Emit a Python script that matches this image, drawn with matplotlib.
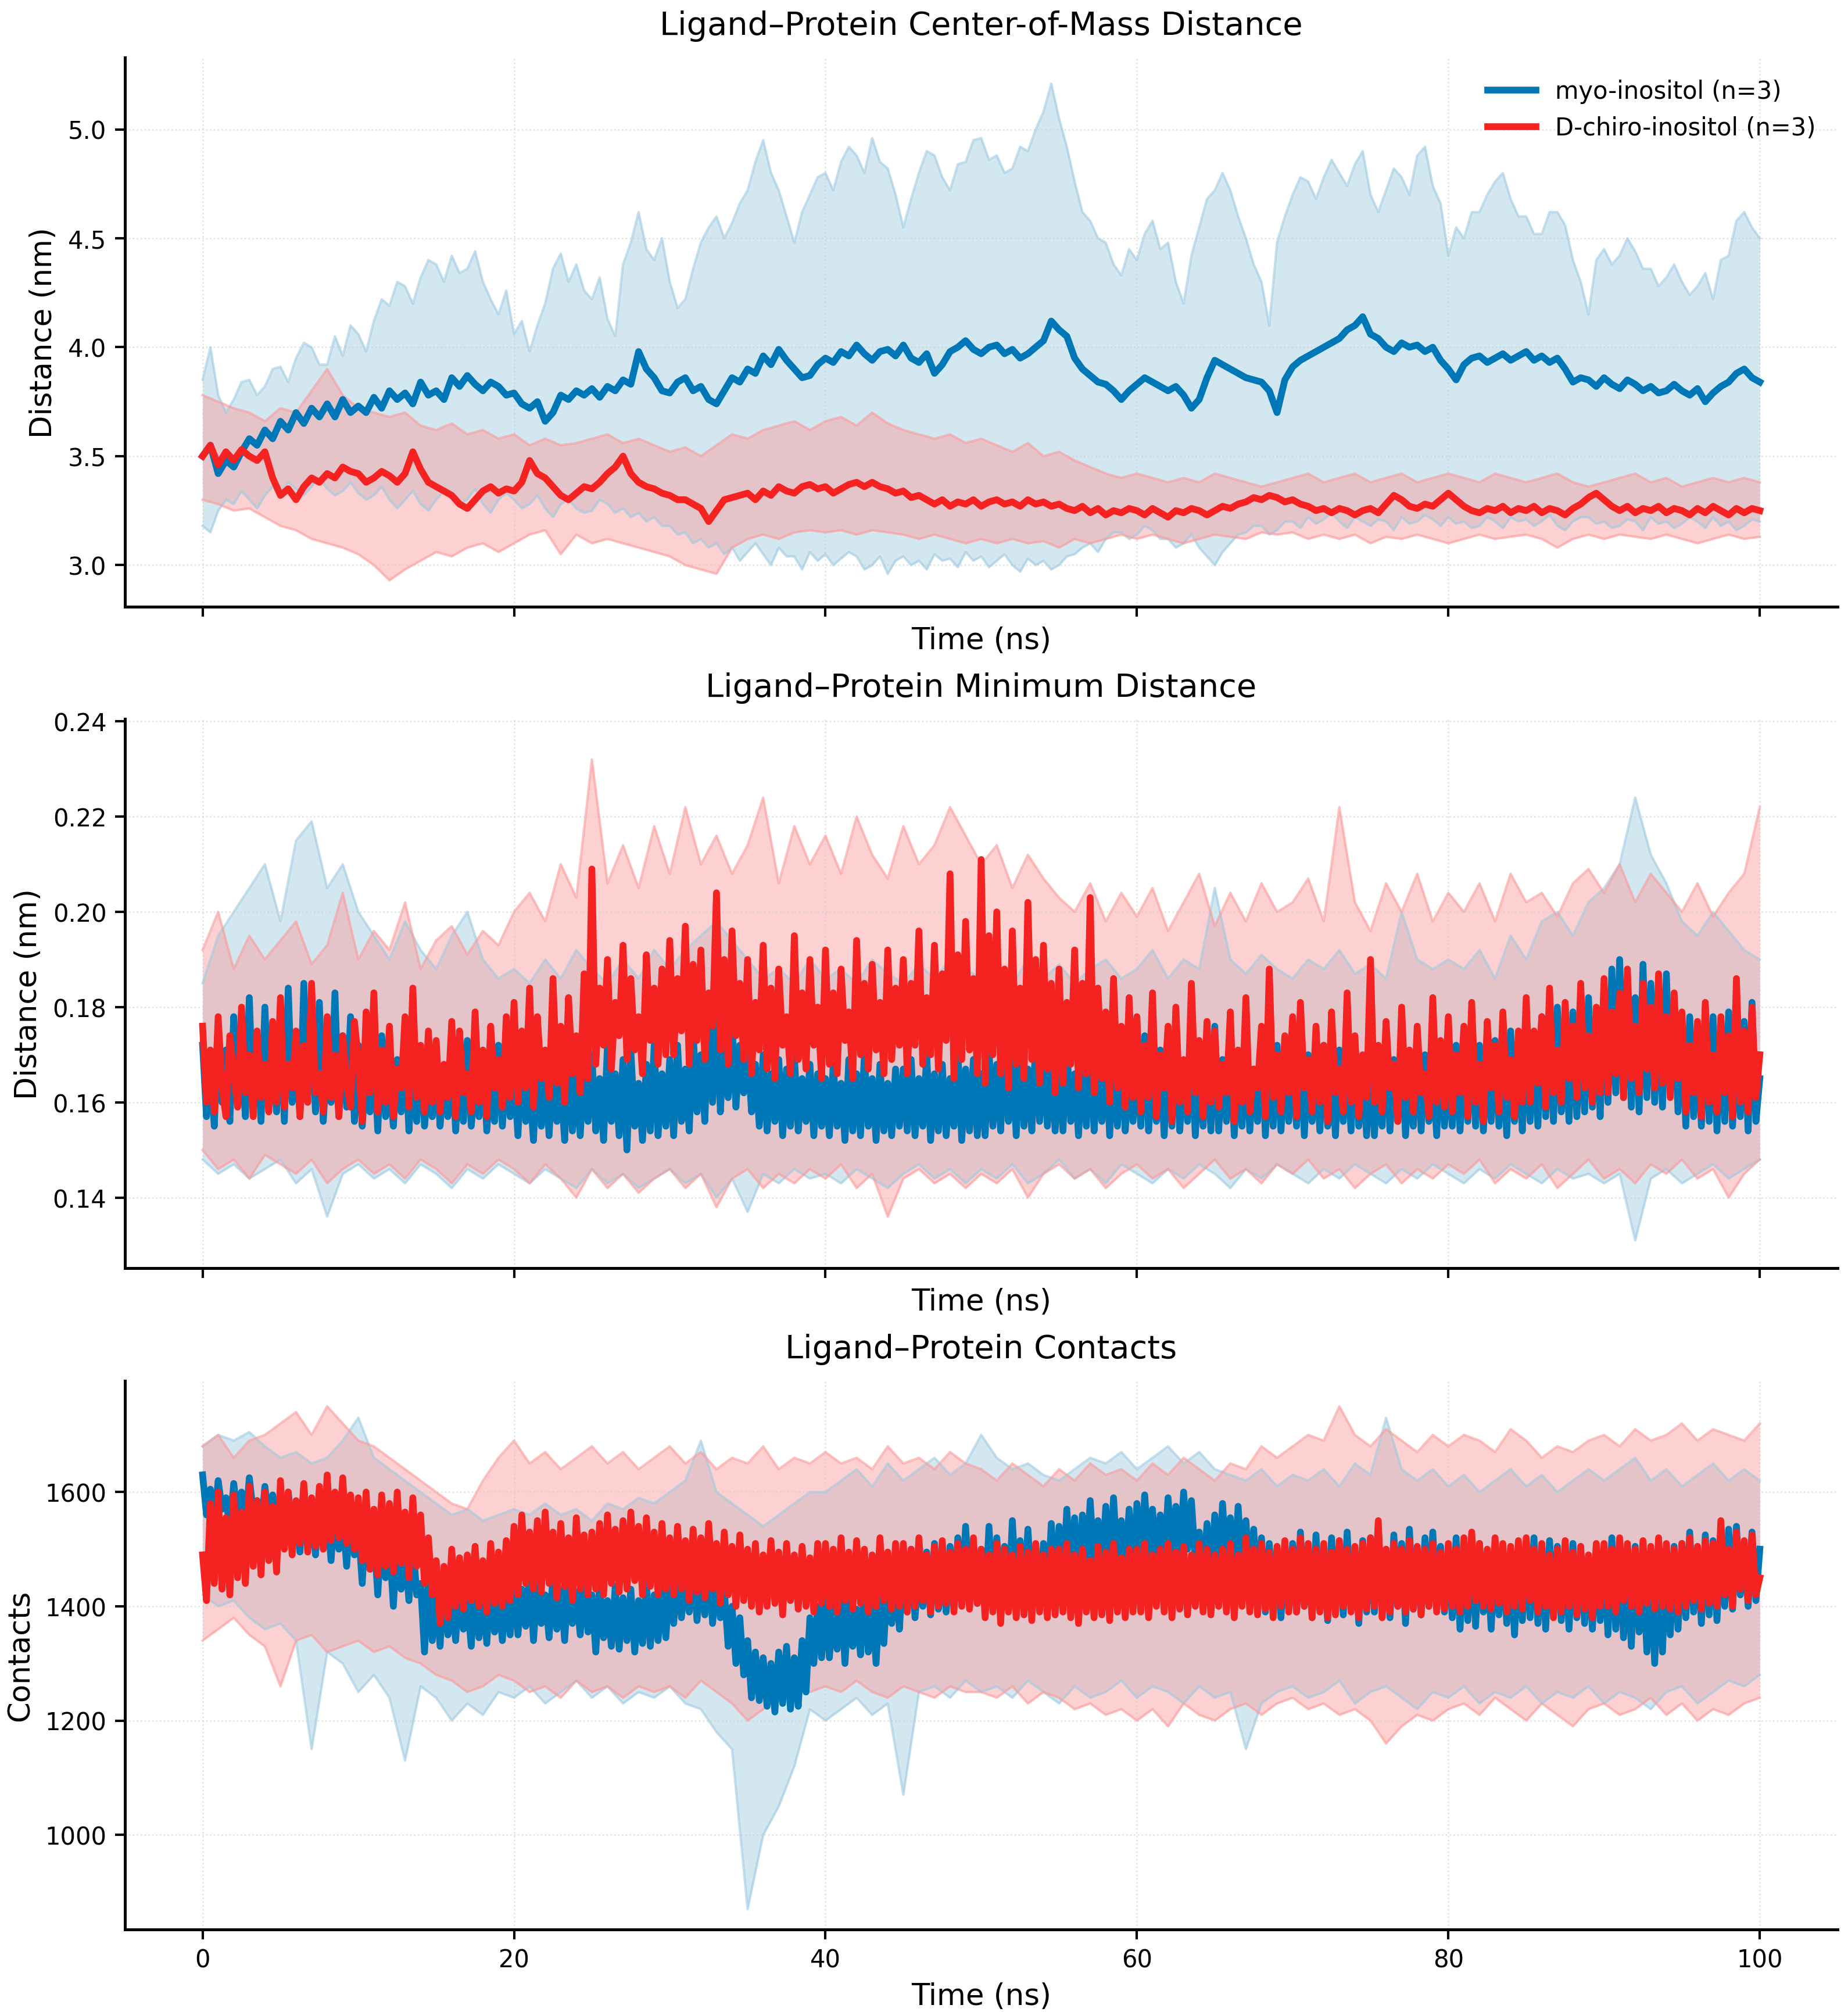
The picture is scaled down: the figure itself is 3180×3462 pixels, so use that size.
import matplotlib
matplotlib.use("Agg")
import matplotlib.pyplot as plt
import numpy as np

# sampling of the values
t_com = np.arange(201) * 0.5      # COM mean curves and myo envelope, every 0.5 ns
t_fast = np.arange(401) * 0.25    # min-distance / contacts mean curves, every 0.25 ns
t_band = np.arange(101) * 1.0     # other replicate envelopes, every 1 ns

labels = ["myo-inositol (n=3)", "D-chiro-inositol (n=3)"]
titles = ["Ligand\u2013Protein Center-of-Mass Distance",
          "Ligand\u2013Protein Minimum Distance",
          "Ligand\u2013Protein Contacts"]
ylabels = ["Distance (nm)", "Distance (nm)", "Contacts"]

# ---------------- COM distance ----------------
com_myo_mean = [
    3.50, 3.55, 3.42, 3.48, 3.45, 3.52, 3.58, 3.55, 3.62, 3.58,
    3.66, 3.62, 3.70, 3.65, 3.72, 3.68, 3.74, 3.68, 3.76, 3.70,
    3.73, 3.70, 3.77, 3.72, 3.80, 3.76, 3.79, 3.74, 3.84, 3.78,
    3.80, 3.76, 3.86, 3.82, 3.87, 3.83, 3.80, 3.84, 3.82, 3.78,
    3.79, 3.74, 3.72, 3.75, 3.66, 3.70, 3.78, 3.76, 3.80, 3.78,
    3.81, 3.77, 3.82, 3.80, 3.85, 3.83, 3.98, 3.90, 3.86, 3.80,
    3.79, 3.84, 3.86, 3.80, 3.82, 3.76, 3.74, 3.80, 3.86, 3.84,
    3.90, 3.88, 3.96, 3.92, 3.99, 3.94, 3.90, 3.86, 3.87, 3.92,
    3.95, 3.93, 3.98, 3.96, 4.01, 3.97, 3.94, 3.98, 3.99, 3.96,
    4.01, 3.95, 3.93, 3.97, 3.88, 3.92, 3.98, 4.00, 4.03, 3.99,
    3.97, 4.00, 4.01, 3.97, 3.99, 3.95, 3.97, 4.00, 4.03, 4.12,
    4.08, 4.05, 3.95, 3.90, 3.87, 3.84, 3.83, 3.80, 3.76, 3.80,
    3.83, 3.86, 3.84, 3.82, 3.80, 3.82, 3.78, 3.72, 3.76, 3.86,
    3.94, 3.92, 3.90, 3.88, 3.86, 3.85, 3.84, 3.80, 3.70, 3.85,
    3.91, 3.94, 3.96, 3.98, 4.00, 4.02, 4.04, 4.08, 4.10, 4.14,
    4.06, 4.04, 4.00, 3.98, 4.02, 4.00, 4.01, 3.98, 4.00, 3.94,
    3.90, 3.85, 3.92, 3.95, 3.96, 3.93, 3.95, 3.97, 3.94, 3.96,
    3.98, 3.94, 3.96, 3.93, 3.95, 3.90, 3.84, 3.86, 3.85, 3.82,
    3.86, 3.83, 3.81, 3.85, 3.83, 3.80, 3.82, 3.79, 3.80, 3.83,
    3.80, 3.78, 3.81, 3.75, 3.79, 3.82, 3.84, 3.88, 3.90, 3.86,
    3.84]
com_chiro_mean = [
    3.50, 3.55, 3.46, 3.52, 3.48, 3.53, 3.50, 3.48, 3.52, 3.40,
    3.32, 3.35, 3.30, 3.36, 3.40, 3.38, 3.42, 3.40, 3.45, 3.43,
    3.42, 3.38, 3.40, 3.43, 3.41, 3.38, 3.42, 3.52, 3.44, 3.38,
    3.36, 3.34, 3.32, 3.28, 3.26, 3.30, 3.34, 3.36, 3.33, 3.35,
    3.34, 3.38, 3.48, 3.42, 3.40, 3.36, 3.32, 3.30, 3.33, 3.36,
    3.35, 3.38, 3.42, 3.45, 3.50, 3.42, 3.38, 3.36, 3.35, 3.33,
    3.32, 3.30, 3.30, 3.28, 3.26, 3.20, 3.25, 3.30, 3.31, 3.32,
    3.33, 3.30, 3.34, 3.32, 3.36, 3.34, 3.33, 3.36, 3.37, 3.35,
    3.36, 3.33, 3.35, 3.37, 3.38, 3.36, 3.38, 3.36, 3.35, 3.33,
    3.34, 3.31, 3.32, 3.30, 3.28, 3.30, 3.27, 3.29, 3.28, 3.30,
    3.27, 3.29, 3.30, 3.28, 3.29, 3.27, 3.30, 3.28, 3.29, 3.27,
    3.28, 3.26, 3.25, 3.27, 3.24, 3.26, 3.23, 3.25, 3.24, 3.26,
    3.25, 3.23, 3.26, 3.24, 3.22, 3.25, 3.24, 3.26, 3.25, 3.23,
    3.25, 3.27, 3.26, 3.28, 3.29, 3.31, 3.30, 3.32, 3.31, 3.29,
    3.30, 3.28, 3.27, 3.25, 3.26, 3.24, 3.26, 3.25, 3.23, 3.25,
    3.26, 3.24, 3.28, 3.32, 3.30, 3.27, 3.26, 3.28, 3.27, 3.30,
    3.33, 3.30, 3.27, 3.25, 3.24, 3.26, 3.25, 3.27, 3.24, 3.26,
    3.25, 3.27, 3.24, 3.26, 3.25, 3.23, 3.26, 3.28, 3.31, 3.33,
    3.30, 3.27, 3.25, 3.27, 3.24, 3.26, 3.25, 3.27, 3.24, 3.26,
    3.25, 3.23, 3.26, 3.24, 3.27, 3.25, 3.23, 3.26, 3.24, 3.26,
    3.25]
com_myo_hi = [
    3.85, 4.00, 3.78, 3.70, 3.76, 3.84, 3.85, 3.78, 3.82, 3.90,
    3.91, 3.84, 3.95, 4.02, 4.00, 3.92, 3.92, 4.05, 3.96, 4.10,
    4.06, 3.98, 4.12, 4.22, 4.19, 4.30, 4.28, 4.20, 4.32, 4.40,
    4.38, 4.30, 4.42, 4.34, 4.36, 4.44, 4.30, 4.22, 4.15, 4.26,
    4.06, 4.12, 3.98, 4.10, 4.20, 4.36, 4.43, 4.30, 4.38, 4.26,
    4.22, 4.32, 4.13, 4.05, 4.38, 4.48, 4.62, 4.45, 4.40, 4.50,
    4.30, 4.18, 4.22, 4.36, 4.48, 4.55, 4.60, 4.50, 4.57, 4.66,
    4.72, 4.85, 4.95, 4.80, 4.72, 4.60, 4.48, 4.62, 4.70, 4.78,
    4.80, 4.72, 4.85, 4.92, 4.88, 4.80, 4.96, 4.85, 4.82, 4.70,
    4.55, 4.68, 4.80, 4.90, 4.88, 4.78, 4.72, 4.84, 4.85, 4.95,
    4.96, 4.86, 4.88, 4.80, 4.82, 4.92, 4.90, 5.00, 5.08, 5.21,
    5.05, 4.92, 4.76, 4.62, 4.58, 4.50, 4.48, 4.38, 4.33, 4.45,
    4.40, 4.52, 4.58, 4.45, 4.48, 4.30, 4.20, 4.42, 4.55, 4.68,
    4.72, 4.80, 4.72, 4.60, 4.50, 4.38, 4.30, 4.10, 4.48, 4.60,
    4.70, 4.78, 4.76, 4.68, 4.78, 4.86, 4.80, 4.74, 4.84, 4.90,
    4.70, 4.62, 4.72, 4.82, 4.78, 4.70, 4.88, 4.92, 4.74, 4.66,
    4.42, 4.55, 4.50, 4.62, 4.62, 4.70, 4.76, 4.80, 4.68, 4.60,
    4.60, 4.52, 4.52, 4.62, 4.62, 4.56, 4.40, 4.30, 4.15, 4.40,
    4.45, 4.38, 4.42, 4.50, 4.44, 4.36, 4.36, 4.28, 4.32, 4.38,
    4.30, 4.24, 4.28, 4.34, 4.22, 4.40, 4.42, 4.58, 4.62, 4.55,
    4.50]
com_myo_lo = [
    3.18, 3.15, 3.25, 3.30, 3.28, 3.34, 3.30, 3.26, 3.32, 3.36,
    3.33, 3.38, 3.35, 3.32, 3.36, 3.40, 3.35, 3.32, 3.34, 3.38,
    3.33, 3.30, 3.32, 3.36, 3.30, 3.26, 3.30, 3.34, 3.28, 3.25,
    3.30, 3.34, 3.32, 3.28, 3.30, 3.35, 3.28, 3.24, 3.30, 3.33,
    3.30, 3.26, 3.28, 3.32, 3.26, 3.22, 3.28, 3.30, 3.26, 3.24,
    3.25, 3.30, 3.28, 3.24, 3.26, 3.22, 3.24, 3.20, 3.22, 3.18,
    3.18, 3.14, 3.15, 3.10, 3.12, 3.08, 3.10, 3.05, 3.08, 3.02,
    3.06, 3.10, 3.05, 3.00, 3.08, 3.04, 3.04, 2.98, 3.06, 3.02,
    3.05, 3.00, 3.03, 3.06, 3.04, 2.98, 3.00, 3.04, 2.96, 3.02,
    3.04, 3.00, 3.02, 2.98, 3.05, 3.02, 3.03, 2.99, 3.06, 3.02,
    3.04, 2.99, 3.02, 3.05, 3.00, 2.97, 3.03, 3.00, 3.02, 2.98,
    3.00, 3.04, 3.05, 3.08, 3.10, 3.06, 3.12, 3.15, 3.15, 3.12,
    3.14, 3.18, 3.16, 3.12, 3.12, 3.08, 3.10, 3.14, 3.08, 3.04,
    3.00, 3.06, 3.10, 3.14, 3.15, 3.18, 3.18, 3.14, 3.16, 3.20,
    3.20, 3.17, 3.22, 3.19, 3.21, 3.24, 3.20, 3.17, 3.22, 3.20,
    3.18, 3.21, 3.20, 3.16, 3.22, 3.19, 3.20, 3.23, 3.21, 3.18,
    3.22, 3.19, 3.20, 3.17, 3.18, 3.22, 3.20, 3.17, 3.22, 3.20,
    3.21, 3.18, 3.20, 3.23, 3.18, 3.16, 3.20, 3.22, 3.22, 3.19,
    3.20, 3.17, 3.18, 3.21, 3.20, 3.16, 3.22, 3.19, 3.20, 3.17,
    3.19, 3.22, 3.20, 3.17, 3.22, 3.18, 3.20, 3.16, 3.18, 3.21,
    3.20]
com_chiro_hi = [
    3.78, 3.75, 3.72, 3.70, 3.66, 3.72, 3.70, 3.80, 3.90, 3.78,
    3.72, 3.70, 3.68, 3.70, 3.64, 3.62, 3.65, 3.60, 3.62, 3.58,
    3.60, 3.55, 3.58, 3.55, 3.56, 3.58, 3.60, 3.56, 3.58, 3.55,
    3.52, 3.54, 3.50, 3.55, 3.60, 3.58, 3.62, 3.64, 3.66, 3.62,
    3.66, 3.68, 3.64, 3.70, 3.65, 3.62, 3.60, 3.58, 3.60, 3.56,
    3.58, 3.55, 3.52, 3.56, 3.50, 3.52, 3.48, 3.45, 3.42, 3.40,
    3.42, 3.40, 3.38, 3.40, 3.38, 3.42, 3.40, 3.38, 3.36, 3.38,
    3.40, 3.42, 3.38, 3.40, 3.42, 3.38, 3.40, 3.42, 3.38, 3.40,
    3.42, 3.40, 3.38, 3.42, 3.40, 3.38, 3.40, 3.42, 3.38, 3.36,
    3.38, 3.40, 3.42, 3.38, 3.40, 3.36, 3.38, 3.40, 3.38, 3.40,
    3.38]
com_chiro_lo = [
    3.30, 3.28, 3.25, 3.26, 3.22, 3.18, 3.16, 3.12, 3.10, 3.08,
    3.05, 3.00, 2.93, 2.98, 3.02, 3.06, 3.04, 3.08, 3.10, 3.06,
    3.10, 3.14, 3.16, 3.05, 3.14, 3.10, 3.12, 3.10, 3.08, 3.06,
    3.04, 3.00, 2.98, 2.96, 3.08, 3.12, 3.14, 3.12, 3.15, 3.16,
    3.15, 3.16, 3.14, 3.16, 3.15, 3.14, 3.12, 3.14, 3.12, 3.10,
    3.12, 3.10, 3.12, 3.10, 3.11, 3.08, 3.12, 3.10, 3.12, 3.14,
    3.12, 3.14, 3.12, 3.10, 3.12, 3.14, 3.13, 3.12, 3.15, 3.14,
    3.15, 3.12, 3.14, 3.12, 3.14, 3.10, 3.13, 3.12, 3.14, 3.12,
    3.10, 3.12, 3.14, 3.12, 3.13, 3.14, 3.12, 3.08, 3.12, 3.14,
    3.12, 3.14, 3.13, 3.12, 3.14, 3.12, 3.10, 3.12, 3.14, 3.12,
    3.13]

# ---------------- minimum distance ----------------
mind_myo_mean = [
    0.172, 0.157, 0.168, 0.155, 0.176, 0.160, 0.171, 0.156, 0.178, 0.162, 0.169, 0.157, 0.182, 0.159, 0.174, 0.156, 0.180, 0.161, 0.170, 0.158,
    0.179, 0.156, 0.184, 0.160, 0.172, 0.157, 0.185, 0.162, 0.175, 0.158, 0.181, 0.156, 0.170, 0.160, 0.183, 0.157, 0.174, 0.159, 0.178, 0.156,
    0.172, 0.155, 0.166, 0.158, 0.170, 0.154, 0.174, 0.157, 0.165, 0.155, 0.169, 0.158, 0.172, 0.154, 0.167, 0.156, 0.171, 0.155, 0.164, 0.157,
    0.169, 0.155, 0.165, 0.157, 0.171, 0.154, 0.167, 0.156, 0.173, 0.155, 0.164, 0.157, 0.170, 0.154, 0.166, 0.156, 0.172, 0.155, 0.168, 0.157,
    0.166, 0.153, 0.170, 0.156, 0.163, 0.152, 0.172, 0.155, 0.167, 0.153, 0.169, 0.156, 0.164, 0.152, 0.171, 0.154, 0.166, 0.153, 0.168, 0.156,
    0.170, 0.154, 0.165, 0.152, 0.172, 0.156, 0.166, 0.153, 0.169, 0.150, 0.171, 0.155, 0.164, 0.152, 0.168, 0.154, 0.172, 0.153, 0.166, 0.155,
    0.169, 0.153, 0.172, 0.156, 0.167, 0.154, 0.175, 0.158, 0.170, 0.156, 0.178, 0.160, 0.180, 0.158, 0.174, 0.161, 0.177, 0.159, 0.172, 0.162,
    0.172, 0.158, 0.168, 0.155, 0.170, 0.154, 0.166, 0.156, 0.169, 0.153, 0.167, 0.155, 0.170, 0.154, 0.165, 0.156, 0.168, 0.153, 0.166, 0.155,
    0.165, 0.153, 0.168, 0.155, 0.164, 0.152, 0.169, 0.154, 0.166, 0.153, 0.170, 0.155, 0.165, 0.152, 0.168, 0.154, 0.164, 0.153, 0.167, 0.155,
    0.167, 0.154, 0.169, 0.153, 0.165, 0.155, 0.170, 0.152, 0.166, 0.154, 0.168, 0.153, 0.165, 0.155, 0.171, 0.152, 0.167, 0.154, 0.169, 0.153,
    0.166, 0.153, 0.171, 0.155, 0.168, 0.154, 0.174, 0.156, 0.169, 0.153, 0.172, 0.155, 0.167, 0.154, 0.173, 0.156, 0.170, 0.155, 0.168, 0.154,
    0.168, 0.154, 0.172, 0.156, 0.166, 0.153, 0.170, 0.155, 0.173, 0.154, 0.167, 0.156, 0.171, 0.153, 0.169, 0.155, 0.172, 0.154, 0.166, 0.156,
    0.169, 0.155, 0.174, 0.154, 0.167, 0.156, 0.171, 0.153, 0.170, 0.155, 0.175, 0.154, 0.168, 0.156, 0.172, 0.153, 0.169, 0.155, 0.171, 0.154,
    0.176, 0.154, 0.169, 0.156, 0.172, 0.153, 0.168, 0.155, 0.171, 0.154, 0.167, 0.156, 0.173, 0.153, 0.169, 0.155, 0.172, 0.154, 0.168, 0.156,
    0.169, 0.155, 0.173, 0.153, 0.170, 0.156, 0.168, 0.154, 0.172, 0.155, 0.167, 0.153, 0.171, 0.156, 0.169, 0.154, 0.173, 0.155, 0.168, 0.153,
    0.170, 0.153, 0.168, 0.155, 0.174, 0.154, 0.169, 0.156, 0.171, 0.153, 0.167, 0.155, 0.173, 0.154, 0.170, 0.156, 0.168, 0.153, 0.172, 0.155,
    0.168, 0.155, 0.172, 0.154, 0.170, 0.156, 0.174, 0.155, 0.172, 0.154, 0.169, 0.156, 0.173, 0.155, 0.171, 0.153, 0.175, 0.156, 0.170, 0.154,
    0.176, 0.156, 0.173, 0.155, 0.178, 0.157, 0.175, 0.156, 0.180, 0.158, 0.174, 0.156, 0.179, 0.157, 0.176, 0.158, 0.182, 0.159, 0.177, 0.157,
    0.184, 0.160, 0.188, 0.162, 0.190, 0.161, 0.186, 0.159, 0.182, 0.158, 0.189, 0.161, 0.185, 0.160, 0.183, 0.159, 0.187, 0.162, 0.180, 0.158,
    0.176, 0.155, 0.178, 0.157, 0.174, 0.155, 0.180, 0.156, 0.178, 0.154, 0.175, 0.156, 0.179, 0.155, 0.173, 0.157, 0.177, 0.154, 0.181, 0.156,
    0.165]
mind_chiro_mean = [
    0.176, 0.160, 0.171, 0.158, 0.178, 0.163, 0.157, 0.174, 0.166, 0.159, 0.180, 0.162, 0.170, 0.157, 0.175, 0.161, 0.168, 0.158, 0.177, 0.160,
    0.182, 0.159, 0.168, 0.163, 0.175, 0.157, 0.172, 0.160, 0.185, 0.162, 0.166, 0.158, 0.178, 0.161, 0.170, 0.157, 0.174, 0.164, 0.159, 0.177,
    0.169, 0.156, 0.179, 0.162, 0.183, 0.158, 0.171, 0.160, 0.176, 0.157, 0.167, 0.163, 0.178, 0.159, 0.184, 0.161, 0.172, 0.158, 0.175, 0.160,
    0.173, 0.158, 0.168, 0.161, 0.177, 0.157, 0.175, 0.162, 0.166, 0.158, 0.179, 0.160, 0.171, 0.157, 0.176, 0.163, 0.169, 0.159, 0.178, 0.161,
    0.181, 0.160, 0.175, 0.163, 0.184, 0.159, 0.178, 0.165, 0.171, 0.161, 0.186, 0.164, 0.176, 0.160, 0.182, 0.166, 0.174, 0.162, 0.187, 0.165,
    0.209, 0.168, 0.184, 0.172, 0.190, 0.167, 0.181, 0.174, 0.193, 0.169, 0.186, 0.171, 0.178, 0.166, 0.191, 0.173, 0.184, 0.168, 0.188, 0.170,
    0.194, 0.170, 0.186, 0.175, 0.197, 0.168, 0.189, 0.173, 0.192, 0.169, 0.183, 0.176, 0.204, 0.171, 0.190, 0.168, 0.196, 0.174, 0.185, 0.169,
    0.190, 0.166, 0.181, 0.171, 0.193, 0.167, 0.184, 0.165, 0.188, 0.172, 0.178, 0.166, 0.195, 0.169, 0.183, 0.167, 0.190, 0.172, 0.180, 0.165,
    0.192, 0.168, 0.183, 0.166, 0.188, 0.173, 0.179, 0.165, 0.194, 0.170, 0.185, 0.167, 0.189, 0.171, 0.181, 0.166, 0.192, 0.169, 0.184, 0.172,
    0.190, 0.166, 0.185, 0.172, 0.196, 0.168, 0.182, 0.170, 0.193, 0.167, 0.187, 0.173, 0.208, 0.165, 0.191, 0.169, 0.198, 0.171, 0.186, 0.166,
    0.211, 0.164, 0.195, 0.170, 0.200, 0.166, 0.188, 0.163, 0.196, 0.168, 0.184, 0.165, 0.202, 0.169, 0.190, 0.164, 0.193, 0.167, 0.185, 0.162,
    0.188, 0.164, 0.181, 0.168, 0.192, 0.163, 0.185, 0.166, 0.203, 0.162, 0.184, 0.165, 0.179, 0.160, 0.186, 0.163, 0.176, 0.159, 0.182, 0.161,
    0.178, 0.158, 0.172, 0.161, 0.183, 0.157, 0.170, 0.163, 0.176, 0.156, 0.180, 0.160, 0.169, 0.158, 0.185, 0.162, 0.173, 0.157, 0.177, 0.160,
    0.175, 0.159, 0.168, 0.162, 0.179, 0.156, 0.171, 0.160, 0.182, 0.158, 0.167, 0.163, 0.176, 0.157, 0.188, 0.161, 0.170, 0.158, 0.174, 0.162,
    0.178, 0.157, 0.181, 0.163, 0.169, 0.158, 0.176, 0.160, 0.172, 0.156, 0.179, 0.162, 0.167, 0.158, 0.183, 0.160, 0.174, 0.157, 0.170, 0.161,
    0.190, 0.160, 0.172, 0.158, 0.177, 0.163, 0.168, 0.156, 0.180, 0.161, 0.171, 0.158, 0.176, 0.162, 0.166, 0.157, 0.182, 0.160, 0.173, 0.159,
    0.178, 0.158, 0.170, 0.162, 0.176, 0.157, 0.181, 0.160, 0.168, 0.156, 0.177, 0.163, 0.172, 0.158, 0.179, 0.161, 0.169, 0.157, 0.175, 0.160,
    0.182, 0.160, 0.175, 0.164, 0.178, 0.159, 0.184, 0.162, 0.171, 0.160, 0.181, 0.165, 0.176, 0.161, 0.185, 0.163, 0.174, 0.160, 0.180, 0.162,
    0.186, 0.162, 0.179, 0.166, 0.183, 0.161, 0.188, 0.165, 0.176, 0.162, 0.185, 0.167, 0.180, 0.163, 0.187, 0.164, 0.178, 0.161, 0.183, 0.165,
    0.179, 0.158, 0.172, 0.162, 0.177, 0.157, 0.181, 0.160, 0.170, 0.158, 0.178, 0.162, 0.174, 0.157, 0.186, 0.160, 0.175, 0.158, 0.180, 0.161,
    0.170]
mind_myo_hi = [
    0.185, 0.195, 0.200, 0.205, 0.210, 0.198, 0.215, 0.219, 0.205, 0.210,
    0.200, 0.195, 0.190, 0.198, 0.192, 0.188, 0.195, 0.200, 0.190, 0.186,
    0.188, 0.185, 0.190, 0.186, 0.192, 0.188, 0.185, 0.190, 0.186, 0.192,
    0.188, 0.192, 0.195, 0.198, 0.194, 0.190, 0.186, 0.188, 0.185, 0.190,
    0.186, 0.188, 0.185, 0.190, 0.187, 0.185, 0.189, 0.186, 0.190, 0.188,
    0.186, 0.188, 0.185, 0.190, 0.186, 0.189, 0.185, 0.188, 0.190, 0.186,
    0.188, 0.192, 0.186, 0.190, 0.188, 0.205, 0.190, 0.187, 0.191, 0.188,
    0.186, 0.190, 0.188, 0.192, 0.187, 0.189, 0.186, 0.200, 0.190, 0.188,
    0.190, 0.188, 0.192, 0.186, 0.195, 0.190, 0.198, 0.200, 0.195, 0.202,
    0.205, 0.210, 0.224, 0.212, 0.206, 0.198, 0.195, 0.200, 0.196, 0.192,
    0.190]
mind_myo_lo = [
    0.148, 0.145, 0.147, 0.144, 0.146, 0.148, 0.143, 0.146, 0.136, 0.145,
    0.147, 0.144, 0.146, 0.143, 0.147, 0.145, 0.142, 0.146, 0.144, 0.147,
    0.145, 0.143, 0.146, 0.144, 0.142, 0.146, 0.143, 0.145, 0.142, 0.144,
    0.146, 0.143, 0.145, 0.140, 0.144, 0.137, 0.145, 0.143, 0.146, 0.144,
    0.145, 0.143, 0.146, 0.144, 0.142, 0.145, 0.147, 0.144, 0.146, 0.143,
    0.146, 0.144, 0.147, 0.143, 0.145, 0.148, 0.144, 0.146, 0.143, 0.147,
    0.145, 0.143, 0.146, 0.144, 0.147, 0.145, 0.142, 0.146, 0.144, 0.147,
    0.145, 0.143, 0.146, 0.144, 0.147, 0.145, 0.143, 0.146, 0.144, 0.147,
    0.145, 0.143, 0.146, 0.144, 0.147, 0.145, 0.143, 0.146, 0.144, 0.145,
    0.143, 0.145, 0.131, 0.144, 0.146, 0.143, 0.145, 0.147, 0.144, 0.146,
    0.148]
mind_chiro_hi = [
    0.192, 0.200, 0.188, 0.195, 0.190, 0.194, 0.198, 0.189, 0.193, 0.204,
    0.190, 0.196, 0.192, 0.202, 0.188, 0.194, 0.197, 0.191, 0.196, 0.193,
    0.200, 0.204, 0.198, 0.210, 0.203, 0.232, 0.206, 0.214, 0.205, 0.218,
    0.208, 0.222, 0.210, 0.216, 0.208, 0.214, 0.224, 0.206, 0.218, 0.210,
    0.216, 0.208, 0.220, 0.212, 0.207, 0.218, 0.210, 0.214, 0.222, 0.216,
    0.210, 0.214, 0.205, 0.212, 0.207, 0.203, 0.200, 0.206, 0.198, 0.204,
    0.199, 0.205, 0.196, 0.202, 0.208, 0.197, 0.204, 0.198, 0.206, 0.200,
    0.202, 0.207, 0.198, 0.222, 0.202, 0.196, 0.206, 0.200, 0.208, 0.198,
    0.204, 0.200, 0.206, 0.198, 0.208, 0.202, 0.204, 0.199, 0.206, 0.209,
    0.204, 0.210, 0.202, 0.208, 0.204, 0.200, 0.206, 0.199, 0.204, 0.208,
    0.222]
mind_chiro_lo = [
    0.150, 0.146, 0.148, 0.144, 0.149, 0.147, 0.145, 0.148, 0.143, 0.146,
    0.148, 0.145, 0.147, 0.144, 0.148, 0.146, 0.143, 0.147, 0.145, 0.148,
    0.146, 0.143, 0.147, 0.144, 0.140, 0.146, 0.142, 0.145, 0.141, 0.144,
    0.146, 0.142, 0.145, 0.138, 0.144, 0.146, 0.142, 0.145, 0.143, 0.146,
    0.144, 0.147, 0.142, 0.145, 0.136, 0.144, 0.146, 0.143, 0.145, 0.142,
    0.145, 0.143, 0.146, 0.140, 0.145, 0.147, 0.144, 0.146, 0.142, 0.145,
    0.147, 0.144, 0.146, 0.142, 0.145, 0.148, 0.144, 0.146, 0.143, 0.147,
    0.145, 0.148, 0.144, 0.146, 0.142, 0.145, 0.147, 0.143, 0.146, 0.144,
    0.147, 0.145, 0.148, 0.143, 0.146, 0.144, 0.147, 0.142, 0.145, 0.148,
    0.144, 0.146, 0.143, 0.147, 0.145, 0.148, 0.144, 0.146, 0.140, 0.145,
    0.148]

# ---------------- contacts ----------------
cont_myo_mean = [
    1630, 1560, 1605, 1545, 1620, 1570, 1590, 1535, 1615, 1555, 1600, 1540, 1625, 1565, 1585, 1530, 1610, 1550, 1595, 1545,
    1580, 1510, 1600, 1530, 1570, 1495, 1610, 1520, 1575, 1490, 1590, 1505, 1565, 1480, 1585, 1500, 1560, 1470, 1575, 1490,
    1540, 1440, 1555, 1465, 1525, 1420, 1545, 1450, 1510, 1400, 1520, 1430, 1500, 1410, 1515, 1420, 1440, 1320, 1450, 1340,
    1430, 1330, 1455, 1350, 1420, 1340, 1445, 1360, 1410, 1330, 1440, 1345, 1425, 1335, 1450, 1355, 1415, 1340, 1435, 1350,
    1450, 1350, 1430, 1365, 1460, 1340, 1440, 1370, 1420, 1345, 1455, 1360, 1430, 1340, 1450, 1370, 1425, 1350, 1445, 1355,
    1420, 1320, 1440, 1345, 1410, 1330, 1435, 1325, 1415, 1340, 1430, 1320, 1410, 1335, 1440, 1330, 1420, 1340, 1435, 1345,
    1450, 1370, 1470, 1380, 1455, 1390, 1480, 1375, 1460, 1385, 1475, 1370, 1450, 1380, 1430, 1330, 1400, 1300, 1380, 1280,
    1340, 1240, 1320, 1235, 1310, 1225, 1300, 1215, 1320, 1230, 1330, 1220, 1310, 1225, 1340, 1250, 1380, 1300, 1400, 1310,
    1420, 1310, 1400, 1325, 1430, 1300, 1410, 1330, 1395, 1315, 1440, 1320, 1405, 1300, 1430, 1335, 1460, 1370, 1445, 1360,
    1480, 1390, 1500, 1380, 1470, 1400, 1495, 1385, 1510, 1395, 1475, 1390, 1505, 1400, 1520, 1410, 1540, 1420, 1500, 1405,
    1500, 1400, 1540, 1410, 1520, 1425, 1505, 1400, 1550, 1430, 1515, 1410, 1535, 1420, 1500, 1405, 1510, 1410, 1545, 1425,
    1540, 1440, 1570, 1450, 1555, 1440, 1560, 1460, 1585, 1470, 1550, 1455, 1575, 1460, 1590, 1470, 1550, 1460, 1570, 1450,
    1580, 1470, 1595, 1490, 1570, 1480, 1560, 1475, 1590, 1490, 1575, 1485, 1600, 1500, 1585, 1480, 1530, 1430, 1545, 1440,
    1560, 1450, 1580, 1470, 1555, 1445, 1575, 1460, 1550, 1440, 1535, 1420, 1520, 1390, 1510, 1400, 1500, 1380, 1510, 1395,
    1510, 1390, 1530, 1400, 1500, 1380, 1525, 1395, 1490, 1375, 1520, 1400, 1505, 1385, 1530, 1395, 1490, 1370, 1515, 1390,
    1520, 1390, 1540, 1410, 1500, 1380, 1525, 1400, 1510, 1370, 1535, 1395, 1500, 1385, 1520, 1400, 1530, 1400, 1505, 1390,
    1500, 1380, 1520, 1360, 1490, 1375, 1515, 1365, 1510, 1390, 1480, 1360, 1505, 1385, 1495, 1370, 1480, 1350, 1500, 1375,
    1500, 1380, 1520, 1370, 1490, 1360, 1515, 1385, 1505, 1375, 1490, 1360, 1510, 1380, 1495, 1370, 1480, 1360, 1505, 1375,
    1500, 1350, 1520, 1360, 1495, 1345, 1480, 1330, 1505, 1355, 1470, 1320, 1460, 1300, 1480, 1320, 1490, 1350, 1505, 1360,
    1510, 1380, 1530, 1390, 1500, 1370, 1525, 1385, 1515, 1375, 1520, 1400, 1535, 1395, 1540, 1420, 1510, 1400, 1530, 1410,
    1500]
cont_chiro_mean = [
    1490, 1410, 1580, 1440, 1600, 1430, 1555, 1420, 1595, 1450, 1565, 1440, 1610, 1470, 1585, 1455, 1600, 1480, 1575, 1460,
    1620, 1500, 1600, 1490, 1585, 1510, 1615, 1495, 1590, 1505, 1610, 1500, 1630, 1515, 1600, 1520, 1625, 1510, 1595, 1500,
    1590, 1480, 1600, 1465, 1570, 1455, 1595, 1470, 1580, 1460, 1600, 1475, 1565, 1450, 1590, 1470, 1560, 1440, 1520, 1420,
    1480, 1370, 1470, 1380, 1500, 1400, 1485, 1395, 1490, 1410, 1505, 1400, 1480, 1390, 1510, 1405, 1495, 1400, 1515, 1410,
    1540, 1420, 1560, 1440, 1530, 1430, 1550, 1425, 1565, 1440, 1530, 1415, 1545, 1435, 1520, 1410, 1555, 1430, 1525, 1420,
    1530, 1430, 1545, 1420, 1560, 1440, 1535, 1425, 1550, 1430, 1565, 1445, 1540, 1420, 1555, 1435, 1530, 1420, 1545, 1430,
    1520, 1420, 1540, 1430, 1515, 1410, 1535, 1425, 1520, 1415, 1545, 1430, 1510, 1405, 1530, 1420, 1505, 1400, 1525, 1410,
    1500, 1400, 1510, 1390, 1490, 1400, 1515, 1405, 1495, 1385, 1510, 1410, 1490, 1395, 1505, 1400, 1485, 1390, 1510, 1405,
    1510, 1400, 1500, 1390, 1520, 1410, 1495, 1395, 1515, 1405, 1500, 1390, 1490, 1400, 1520, 1410, 1495, 1395, 1510, 1400,
    1510, 1390, 1500, 1400, 1520, 1410, 1490, 1390, 1505, 1400, 1515, 1405, 1495, 1390, 1510, 1400, 1500, 1395, 1520, 1405,
    1500, 1380, 1490, 1390, 1510, 1370, 1500, 1390, 1490, 1380, 1505, 1385, 1495, 1375, 1510, 1390, 1490, 1380, 1500, 1385,
    1500, 1390, 1510, 1380, 1490, 1370, 1500, 1390, 1480, 1380, 1505, 1385, 1495, 1375, 1510, 1390, 1485, 1380, 1500, 1390,
    1500, 1390, 1510, 1380, 1490, 1400, 1500, 1390, 1510, 1380, 1495, 1395, 1505, 1385, 1490, 1400, 1510, 1390, 1500, 1385,
    1490, 1400, 1500, 1390, 1510, 1380, 1490, 1400, 1520, 1390, 1500, 1385, 1510, 1395, 1495, 1380, 1505, 1400, 1515, 1390,
    1500, 1390, 1520, 1400, 1510, 1380, 1500, 1390, 1510, 1380, 1495, 1385, 1515, 1400, 1500, 1390, 1505, 1380, 1510, 1395,
    1520, 1400, 1550, 1380, 1500, 1390, 1510, 1400, 1500, 1390, 1515, 1395, 1505, 1385, 1500, 1400, 1510, 1390, 1495, 1395,
    1510, 1400, 1500, 1390, 1520, 1400, 1530, 1410, 1510, 1400, 1500, 1395, 1520, 1405, 1510, 1390, 1505, 1400, 1515, 1395,
    1520, 1410, 1500, 1390, 1510, 1400, 1490, 1380, 1500, 1390, 1515, 1400, 1495, 1385, 1505, 1395, 1490, 1380, 1510, 1400,
    1510, 1400, 1500, 1390, 1520, 1410, 1510, 1400, 1500, 1390, 1515, 1405, 1505, 1395, 1520, 1400, 1510, 1395, 1500, 1390,
    1510, 1400, 1520, 1410, 1505, 1395, 1515, 1405, 1510, 1400, 1550, 1420, 1500, 1400, 1530, 1430, 1515, 1410, 1525, 1420,
    1450]
cont_myo_hi = [
    1680, 1700, 1690, 1705, 1680, 1660, 1670, 1650, 1660, 1690,
    1730, 1660, 1640, 1620, 1600, 1580, 1560, 1570, 1550, 1560,
    1570, 1560, 1580, 1560, 1570, 1550, 1580, 1570, 1590, 1580,
    1600, 1620, 1690, 1600, 1580, 1560, 1540, 1560, 1580, 1600,
    1600, 1620, 1640, 1610, 1650, 1620, 1640, 1660, 1630, 1650,
    1700, 1660, 1640, 1650, 1630, 1620, 1640, 1660, 1650, 1670,
    1640, 1660, 1680, 1650, 1670, 1640, 1630, 1620, 1640, 1610,
    1630, 1620, 1640, 1610, 1650, 1630, 1730, 1640, 1620, 1640,
    1610, 1630, 1600, 1620, 1640, 1610, 1630, 1600, 1620, 1640,
    1620, 1640, 1660, 1620, 1640, 1610, 1630, 1650, 1620, 1640,
    1620]
cont_myo_lo = [
    1420, 1400, 1410, 1380, 1360, 1370, 1340, 1150, 1320, 1300,
    1250, 1280, 1240, 1130, 1260, 1240, 1200, 1230, 1210, 1250,
    1240, 1260, 1230, 1250, 1270, 1240, 1260, 1230, 1250, 1240,
    1260, 1230, 1220, 1180, 1150, 870, 1000, 1050, 1120, 1220,
    1200, 1220, 1240, 1210, 1230, 1070, 1250, 1260, 1240, 1270,
    1250, 1260, 1240, 1270, 1250, 1230, 1260, 1240, 1250, 1270,
    1240, 1260, 1250, 1230, 1260, 1240, 1250, 1150, 1230, 1250,
    1260, 1240, 1250, 1270, 1230, 1250, 1260, 1240, 1220, 1250,
    1240, 1260, 1230, 1250, 1240, 1260, 1230, 1250, 1240, 1260,
    1230, 1250, 1240, 1220, 1250, 1260, 1230, 1250, 1270, 1260,
    1280]
cont_chiro_hi = [
    1680, 1700, 1660, 1690, 1700, 1720, 1740, 1700, 1750, 1720,
    1690, 1680, 1660, 1640, 1620, 1600, 1580, 1570, 1620, 1660,
    1690, 1650, 1670, 1640, 1660, 1680, 1650, 1670, 1640, 1660,
    1680, 1650, 1670, 1640, 1660, 1650, 1680, 1640, 1660, 1650,
    1670, 1650, 1660, 1640, 1680, 1650, 1660, 1640, 1670, 1650,
    1640, 1620, 1650, 1630, 1610, 1640, 1620, 1650, 1630, 1640,
    1620, 1650, 1630, 1660, 1640, 1620, 1650, 1640, 1680, 1660,
    1680, 1700, 1690, 1750, 1700, 1680, 1710, 1690, 1670, 1700,
    1680, 1700, 1690, 1670, 1710, 1690, 1660, 1680, 1670, 1690,
    1700, 1680, 1710, 1690, 1700, 1720, 1690, 1710, 1700, 1690,
    1720]
cont_chiro_lo = [
    1340, 1360, 1380, 1350, 1330, 1260, 1340, 1350, 1320, 1330,
    1340, 1320, 1330, 1310, 1300, 1280, 1270, 1250, 1260, 1280,
    1270, 1250, 1260, 1240, 1270, 1250, 1260, 1240, 1260, 1250,
    1260, 1240, 1270, 1250, 1230, 1200, 1220, 1240, 1260, 1250,
    1260, 1250, 1270, 1250, 1240, 1260, 1250, 1240, 1260, 1250,
    1250, 1240, 1260, 1230, 1250, 1240, 1220, 1230, 1210, 1220,
    1200, 1220, 1190, 1230, 1210, 1200, 1220, 1230, 1210, 1230,
    1240, 1220, 1230, 1210, 1220, 1200, 1160, 1190, 1210, 1200,
    1220, 1230, 1210, 1240, 1220, 1200, 1230, 1210, 1190, 1220,
    1230, 1210, 1220, 1240, 1210, 1230, 1200, 1220, 1210, 1230,
    1240]

panels = [
    (com_myo_mean, com_myo_lo, com_myo_hi, com_chiro_mean, com_chiro_lo, com_chiro_hi),
    (mind_myo_mean, mind_myo_lo, mind_myo_hi, mind_chiro_mean, mind_chiro_lo, mind_chiro_hi),
    (cont_myo_mean, cont_myo_lo, cont_myo_hi, cont_chiro_mean, cont_chiro_lo, cont_chiro_hi),
]
mean_times = [t_com, t_fast, t_fast]
band_times = [(t_com, t_band), (t_band, t_band), (t_band, t_band)]
ylims = [(2.81, 5.33), (0.1252, 0.2405), (834, 1795)]
mean_lw = 2.8

main_colors = ["#0077b6", "#f52222"]
band_colors = ["#9ecae1", "#fb9a99"]

fig, axes = plt.subplots(3, 1, figsize=(10.6, 11.543), sharex=True)
fig.subplots_adjust(left=0.0675, right=0.9944, top=0.9712, bottom=0.0409, hspace=0.205)

for i, ax in enumerate(axes):
    data = panels[i]
    # replicate envelopes first
    for k in range(2):
        tb = band_times[i][k]
        lo = np.array(data[3 * k + 1])
        hi = np.array(data[3 * k + 2])
        ax.fill_between(tb, lo, hi, color=band_colors[k], alpha=0.45, linewidth=0)
        ax.plot(tb, hi, color=band_colors[k], alpha=0.6, lw=1.0)
        ax.plot(tb, lo, color=band_colors[k], alpha=0.6, lw=1.0)
    for k in range(2):
        ax.plot(mean_times[i], data[3 * k], color=main_colors[k], lw=mean_lw, label=labels[k])

    ax.set_title(titles[i], fontsize=13.4, pad=9.5)
    ax.set_xlabel("Time (ns)", fontsize=12.3)
    ax.set_ylabel(ylabels[i], fontsize=12.3)
    ax.set_ylim(*ylims[i])
    ax.grid(True, linestyle=":", linewidth=0.6, color="#cccccc", alpha=0.6)
    ax.spines["top"].set_visible(False)
    ax.spines["right"].set_visible(False)
    ax.spines["left"].set_linewidth(1.2)
    ax.spines["bottom"].set_linewidth(1.2)
    ax.tick_params(labelsize=10, width=1.0, length=4)
    ax.xaxis.set_tick_params(labelbottom=(i == 2))

axes[0].set_xlim(-5, 105)
axes[0].set_yticks([3.0, 3.5, 4.0, 4.5, 5.0])
axes[1].set_yticks([0.14, 0.16, 0.18, 0.20, 0.22, 0.24])
axes[2].set_yticks([1000, 1200, 1400, 1600])
axes[0].legend(loc="upper right", frameon=False, fontsize=10, handlelength=2.0)

fig.savefig("out.png", dpi=300)
